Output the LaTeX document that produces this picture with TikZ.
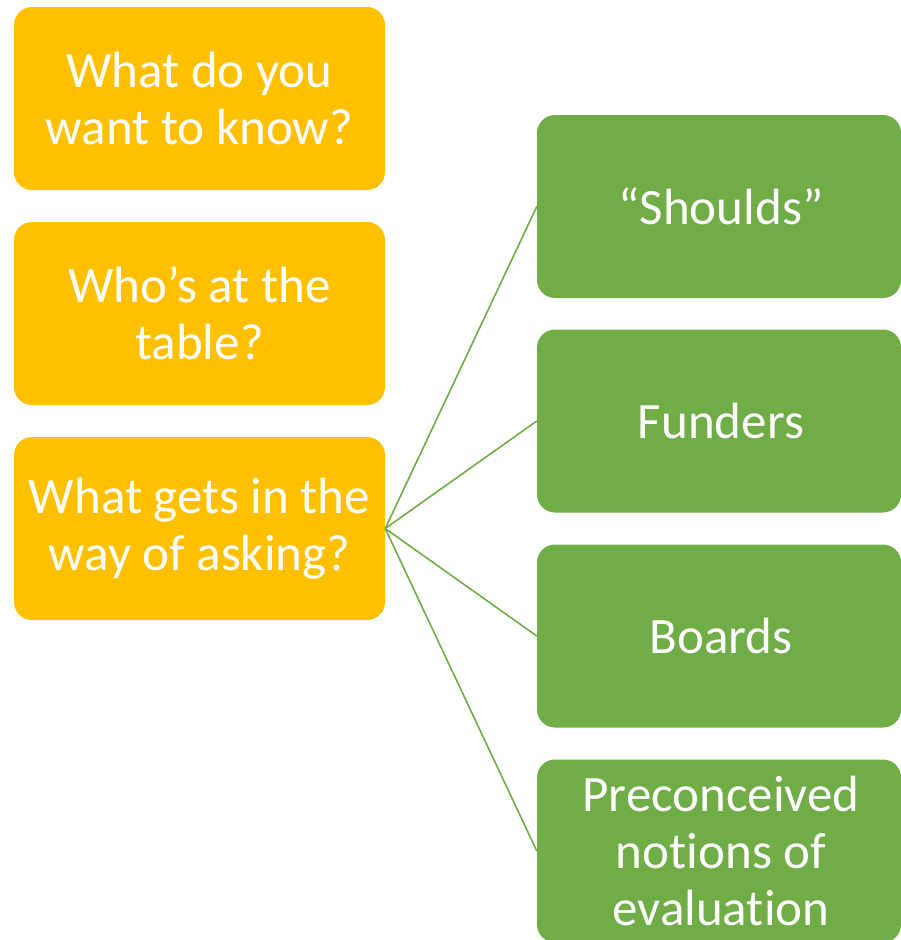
\documentclass[tikz,border=0pt]{standalone}
\usepackage{fontspec}
\setmainfont[Ligatures=NoCommon]{Carlito}
\definecolor{orng}{HTML}{FFC000}
\definecolor{grn}{HTML}{70AD47}
\begin{document}
\begin{tikzpicture}[x=1pt,y=-1pt,
  boxbase/.style={rounded corners=18pt, text=white, align=center, inner sep=0pt,
    font=\fontsize{51}{57}\selectfont},
  qbox/.style={boxbase, fill=orng, minimum width=371pt, minimum height=183pt},
  gbox/.style={boxbase, fill=grn, minimum width=364pt, minimum height=183pt},
  link/.style={draw=grn, line width=1.6pt}]
\useasboundingbox (0,0) rectangle (901,940);
\node[qbox] (q1) at (199.5,98.5) {What do you\\want to know?};
\node[qbox] (q2) at (199.5,313.5) {Who’s at the\\table?};
\node[qbox] (q3) at (199.5,528.5) {What gets in the\\way of asking?};
\node[gbox] (g1) at (719,206.5) {\hspace{4pt}“Shoulds”};
\node[gbox] (g2) at (719,421) {\hspace{4pt}Funders};
\node[gbox] (g3) at (719,636) {\hspace{4pt}Boards};
\node[gbox] (g4) at (719,851) {\hspace{4pt}Preconceived\\\hspace{4pt}notions of\\\hspace{4pt}evaluation};
\foreach \g in {g1,g2,g3,g4}
  \draw[link] (q3.east) -- (\g.west);
\end{tikzpicture}
\end{document}
